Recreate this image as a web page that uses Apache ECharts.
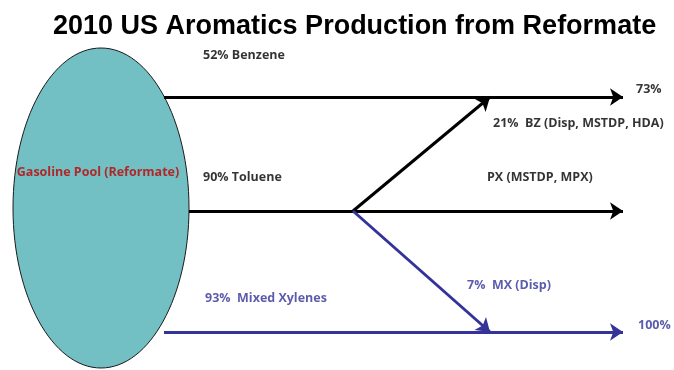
<!DOCTYPE html>
<html>
<head>
<meta charset="utf-8">
<script src="https://cdn.jsdelivr.net/npm/echarts@6/dist/echarts.min.js"></script>
<style>
  html, body { margin: 0; padding: 0; background: #fff; }
  #chart { width: 674px; height: 370px; }
</style>
</head>
<body>
<div id="chart"></div>
<script>
// diagram drawn on a hidden value grid, units = pixels of the original slide
const titleText = '2010 US Aromatics Production from Reformate';

// ellipse: [cx, cy, rx, ry]
const poolShape = [101, 208, 88, 160];

// arrows: [x1, y1, x2, y2]
const blackFlows = [
  [164, 97, 623, 97],    // benzene
  [189, 211, 623, 211],  // toluene
  [353, 211, 490, 97]    // toluene -> BZ
];
const blueFlows = [
  [164, 332, 623, 332],  // mixed xylenes
  [353, 211, 490, 332]   // toluene -> MX
];

// labels: [text, x, y]
const blackLabels = [
  ['52% Benzene', 203, 55],
  ['90% Toluene', 203, 177],
  ['73%', 636, 89],
  ['21%  BZ (Disp, MSTDP, HDA)', 493, 123],
  ['PX (MSTDP, MPX)', 487, 177]
];
const blueLabels = [
  ['93%  Mixed Xylenes', 205, 298],
  ['7%  MX (Disp)', 467, 285],
  ['100%', 638, 325]
];
const poolLabel = [['Gasoline Pool (Reformate)', 98, 172]];

const BLACK = '#000000';
const BLUE = '#333399';
const RED = '#C00000';

function flowSeries(list, color) {
  return {
    type: 'lines',
    coordinateSystem: 'cartesian2d',
    symbol: ['none', 'arrow'],
    symbolSize: 13,
    lineStyle: { color: color, width: 3, opacity: 1 },
    data: list.map(f => ({ coords: [[f[0], f[1]], [f[2], f[3]]] })),
    z: 3
  };
}

function labelSeries(list, color, size, align) {
  return {
    type: 'scatter',
    symbolSize: 0,
    data: list.map(l => ({ value: [l[1], l[2]], name: l[0] })),
    label: {
      show: true,
      position: 'inside',
      formatter: p => p.name,
      color: color,
      fontFamily: 'Open Sans',
      fontWeight: 'bold',
      fontSize: size,
      align: align,
      verticalAlign: 'middle'
    },
    z: 5
  };
}

const chart = echarts.init(document.getElementById('chart'));

const option = {
  animation: false,
  title: {
    text: titleText,
    left: 48,
    top: 8,
    textStyle: { fontFamily: 'Liberation Sans', fontWeight: 'bold', fontSize: 27, color: '#000' }
  },
  grid: { left: 0, right: 0, top: 0, bottom: 0 },
  xAxis: { type: 'value', min: 0, max: 674, show: false },
  yAxis: { type: 'value', min: 0, max: 370, inverse: true, show: false },
  series: [
    {
      type: 'custom',
      data: [poolShape],
      renderItem: (params, api) => {
        const c = api.coord([api.value(0), api.value(1)]);
        const s = api.size([api.value(2), api.value(3)]);
        return {
          type: 'ellipse',
          shape: { cx: c[0], cy: c[1], rx: s[0], ry: s[1] },
          style: { fill: '#72BFC4', stroke: '#1a1a1a', lineWidth: 1 }
        };
      },
      z: 1
    },
    flowSeries(blackFlows, BLACK),
    flowSeries(blueFlows, BLUE),
    labelSeries(blackLabels, BLACK, 12.5, 'left'),
    labelSeries(blueLabels, BLUE, 12.5, 'left'),
    labelSeries(poolLabel, RED, 12.5, 'center')
  ]
};

chart.setOption(option);
</script>
</body>
</html>
